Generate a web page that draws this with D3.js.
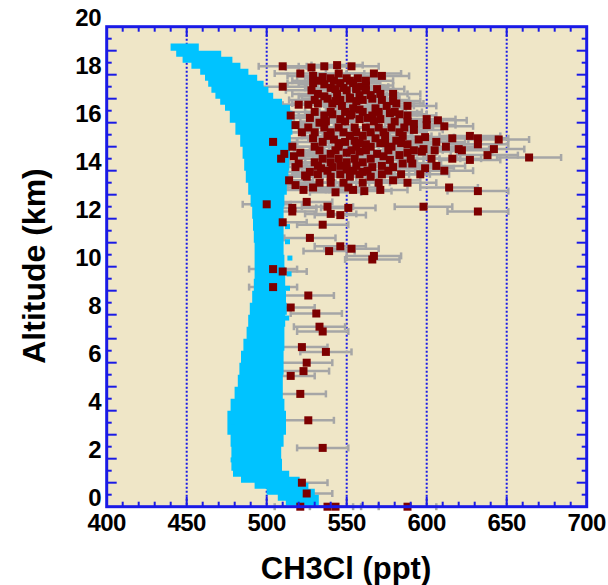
<!DOCTYPE html>
<html>
<head>
<meta charset="utf-8">
<script src="https://d3js.org/d3.v7.min.js"></script>
<style>
  body { margin: 0; background: #fff; }
  text { font-family: "Liberation Sans", Arial, sans-serif; font-weight: bold; fill: #000; }
</style>
</head>
<body>
<div id="vis"></div>
<script>
  // axis ticks
  const xLabels = [400, 450, 500, 550, 600, 650, 700]
  const xGrid = [450, 500, 550, 600, 650]
  const yLabels = [0, 2, 4, 6, 8, 10, 12, 14, 16, 18, 20]

  // model profile (cyan band): altitude, left and right edge in ppt
  const bandAlt = [19.3, 19.0, 18.75, 18.5, 18.25, 18.0, 17.75, 17.5, 17.25, 17.0, 16.75, 16.5, 16.0, 15.5, 15.0, 14.5, 14.0, 13.5, 13.0, 12.5, 12.0, 11.5, 11.0, 10.5, 10.0, 9.5, 9.0, 8.5, 8.0, 7.5, 7.0, 6.5, 6.0, 5.5, 5.0, 4.5, 4.0, 3.5, 3.0, 2.5, 2.0, 1.5, 1.25, 1.0, 0.75, 0.5, 0.25, 0.05]
  const bandLo  = [440, 443, 447, 451, 458, 462, 464, 466, 468, 471, 474, 477, 480, 484, 486, 487, 488, 489, 491, 492, 493, 493, 494, 494, 494, 494, 493, 492, 490, 490, 488, 486, 485, 484, 483, 480, 478, 476, 478, 480, 479, 480, 481, 490, 498, 505, 512, 515]
  const bandHi  = [446, 466, 474, 480, 484, 490, 495, 498, 501, 504, 512, 514, 515, 514, 513, 513, 512, 512, 510, 509, 509, 509, 509, 509, 510, 510, 510, 511, 511, 509, 510, 509, 509, 509, 508, 509, 510, 511, 510, 508, 507, 509, 516, 522, 527, 530, 532, 530]

  // scattered model points beside the band
  const cyanX   = [513, 513, 514.5, 514, 513, 512.5, 509, 479, 479]
  const cyanAlt = [11.67, 11.04, 10.36, 9.7, 9.1, 7.86, 3.5, 3.33, 1.95]

  // observations (dark red) with their error bars
  const obsPpt = [510, 528, 536, 544, 553, 521, 529, 535, 545, 567, 572, 510, 529, 536, 540, 546, 548, 554, 556, 559, 562,
    532, 536, 544, 552, 558, 565, 571, 579, 520, 526, 532, 541, 547, 554, 558, 568, 575, 581, 588,
    527, 533, 541, 546, 553, 558, 563, 571, 577, 583, 592, 600, 607, 611, 600, 592,
    504, 529, 535, 542, 549, 555, 562, 568, 574, 581, 588, 595, 599, 606, 616, 627, 632, 632, 645, 642, 620, 612, 598,
    511, 521, 540, 550, 558, 569, 583, 588, 597, 664, 627, 509, 517,
    518, 527, 534, 541, 550, 560, 566, 572, 579, 585, 591, 599, 611, 577, 573,
    518, 523, 529, 533, 543, 551, 554, 561, 571, 579, 632,
    500, 516, 516, 525, 538, 540, 546, 551, 598, 632, 510, 535, 527, 546, 553, 539, 567, 566,
    504, 510, 504, 526, 515, 531, 533, 535, 522, 537, 525, 523, 515, 521, 526, 535, 522, 525, 521, 538, 543, 588,
    540, 550, 557, 528, 550, 562, 530, 546, 560, 572, 530, 540, 549, 560, 570, 580,
    530, 540, 548, 556, 565, 573, 583, 530, 545, 556, 565, 578, 530, 540, 550, 560, 525, 540, 552, 565, 622, 638, 614,
    515, 518, 522, 516, 520, 524, 514,
    532, 542, 552, 562, 538, 552, 566, 536, 552, 566, 588,
    526, 536, 545, 555, 562, 570, 578, 586, 538, 552, 560, 574, 585,
    533, 543, 553, 562, 576, 592, 605, 535, 545, 555, 565, 590, 603, 616,
    532, 546, 556, 606, 532, 546, 558, 572, 584, 596, 540, 548, 560, 570, 588,
    537, 549, 567, 580, 588, 545, 558, 571, 584, 538, 554, 563, 576, 543, 556, 569, 543, 556, 579]
  const obsAlt = [18.35, 18.3, 18.35, 18.4, 18.35, 18.05, 17.95, 17.9, 18.05, 18.05, 17.95, 17.5, 17.65, 17.6, 17.45, 17.65, 17.45, 17.65, 17.45, 17.5, 17.55,
    17.2, 17.1, 17.2, 17.05, 17.15, 17.15, 17.2, 17.2, 16.75, 16.75, 16.8, 16.8, 16.7, 16.6, 16.55, 16.6, 16.7, 16.8, 16.7,
    16.2, 16.0, 16.35, 16.15, 16.35, 16.15, 16.2, 16.15, 16.4, 16.35, 15.95, 16.15, 16.1, 15.85, 15.9, 15.7,
    15.2, 15.35, 15.2, 15.3, 15.2, 15.25, 15.1, 15.35, 15.15, 15.25, 15.1, 15.3, 15.4, 15.2, 15.35, 15.45, 15.35, 15.1, 15.3, 14.9, 14.9, 15.0, 14.9,
    14.7, 14.75, 14.7, 14.75, 14.8, 14.7, 14.65, 14.75, 14.8, 14.55, 14.45, 14.5, 14.6,
    14.15, 13.95, 14.1, 14.15, 14.05, 13.95, 14.15, 14.2, 14.15, 14.3, 14.3, 14.1, 14.0, 14.45, 14.6,
    13.4, 13.2, 13.3, 13.5, 13.1, 13.3, 13.2, 13.15, 13.2, 13.6, 13.15,
    12.6, 12.45, 12.3, 12.7, 12.5, 12.2, 12.15, 12.45, 12.5, 12.3, 11.85, 11.75, 11.2, 10.85, 10.75, 10.65, 10.45, 10.3,
    9.9, 9.8, 9.15, 8.8, 8.3, 8.05, 7.5, 7.3, 6.65, 6.45, 6.0, 5.65, 5.45, 4.7, 3.6, 2.45, 1.0, 0.55, 0.0, 0.0, 0.0, 0.0,
    17.85, 17.85, 17.85, 17.35, 17.35, 17.35, 16.95, 16.95, 16.95, 16.95, 16.45, 16.45, 16.45, 16.45, 16.45, 16.45,
    15.6, 15.6, 15.6, 15.6, 15.6, 15.6, 15.6, 15.0, 15.0, 15.0, 15.0, 15.0, 14.35, 14.35, 14.35, 14.35, 13.75, 13.75, 13.75, 13.75, 14.85, 14.65, 13.3,
    16.3, 15.9, 15.6, 15.0, 14.3, 13.8, 13.6,
    17.75, 17.75, 17.75, 17.75, 17.0, 17.0, 17.0, 16.3, 16.3, 16.3, 16.3,
    15.8, 15.8, 15.8, 15.8, 15.8, 15.8, 15.8, 15.8, 15.45, 15.45, 15.45, 15.45, 15.45,
    14.85, 14.85, 14.85, 14.85, 14.85, 14.85, 14.85, 14.5, 14.5, 14.5, 14.5, 14.5, 14.5, 14.5,
    14.2, 14.2, 14.2, 14.2, 13.85, 13.85, 13.85, 13.85, 13.85, 13.85, 13.5, 13.5, 13.5, 13.5, 13.5,
    16.05, 16.05, 16.05, 16.05, 16.05, 15.15, 15.15, 15.15, 15.15, 14.0, 14.0, 14.0, 14.0, 17.4, 17.4, 17.4, 16.9, 16.9, 16.9]
  const obsErr = [15, 16, 16, 16, 17, 16, 16, 16, 16, 17, 17, 15, 16, 16, 16, 16, 16, 17, 17, 17, 17,
    16, 16, 16, 17, 17, 17, 17, 17, 16, 16, 16, 16, 16, 17, 17, 17, 17, 17, 18,
    16, 16, 16, 16, 17, 17, 17, 17, 17, 17, 18, 18, 18, 18, 18, 18,
    15, 16, 16, 16, 16, 17, 17, 17, 17, 17, 18, 18, 18, 18, 18, 19, 19, 19, 19, 19, 19, 18, 18,
    15, 16, 16, 16, 17, 17, 17, 18, 18, 20, 19, 15, 15,
    16, 16, 16, 16, 16, 17, 17, 17, 17, 18, 18, 18, 18, 17, 17,
    16, 16, 16, 16, 16, 17, 17, 17, 17, 17, 19,
    15, 15, 15, 16, 16, 16, 16, 17, 18, 19, 15, 16, 16, 16, 17, 16, 17, 17,
    15, 15, 15, 16, 15, 16, 16, 16, 16, 16, 16, 16, 15, 16, 16, 16, 16, 16, 16, 16, 16, 18,
    16, 17, 17, 16, 17, 17, 16, 16, 17, 17, 16, 16, 16, 17, 17, 17,
    16, 16, 16, 17, 17, 17, 17, 16, 16, 17, 17, 17, 16, 16, 16, 17, 16, 16, 17, 17, 19, 19, 18,
    15, 16, 16, 15, 16, 16, 15,
    16, 16, 17, 17, 16, 17, 17, 16, 17, 17, 18,
    16, 16, 16, 17, 17, 17, 17, 18, 16, 17, 17, 17, 18,
    16, 16, 17, 17, 17, 18, 18, 16, 16, 17, 17, 18, 18, 18,
    16, 16, 17, 18, 16, 16, 17, 17, 18, 18, 16, 16, 17, 17, 18,
    16, 16, 17, 17, 18, 16, 17, 17, 17, 16, 17, 17, 17, 16, 17, 17, 16, 17, 17]

  const W = 608, H = 585

  const svg = d3.select('#vis')
    .append('svg')
    .attr('width', W)
    .attr('height', H)

  const x = d3.scaleLinear().domain([400, 700]).range([106.7, 586.7])
  const y = d3.scaleLinear().domain([0, 20]).range([506.7, 26.7])

  // plot background
  svg.append('rect')
    .attr('x', x(400)).attr('y', y(20))
    .attr('width', x(700) - x(400)).attr('height', y(0) - y(20))
    .attr('fill', '#efe6c7')

  // dotted vertical grid
  svg.selectAll('.grid')
    .data(xGrid)
    .enter()
    .append('line')
    .attr('x1', d => x(d)).attr('x2', d => x(d))
    .attr('y1', y(20)).attr('y2', y(0))
    .attr('stroke', '#1a1ae6')
    .attr('stroke-width', 2)
    .attr('stroke-dasharray', '2,2')

  const obs = obsPpt.map((v, i) => ({ v: v, alt: obsAlt[i], err: obsErr[i] }))

  // error bars
  const bars = svg.append('g').attr('stroke', '#a6a6a6').attr('stroke-width', 2.5)
  bars.selectAll('.eb')
    .data(obs)
    .enter()
    .append('line')
    .attr('x1', d => x(d.v - d.err)).attr('x2', d => x(d.v + d.err))
    .attr('y1', d => y(d.alt)).attr('y2', d => y(d.alt))
  bars.selectAll('.capL')
    .data(obs)
    .enter()
    .append('line')
    .attr('x1', d => x(d.v - d.err)).attr('x2', d => x(d.v - d.err))
    .attr('y1', d => y(d.alt) - 3.5).attr('y2', d => y(d.alt) + 3.5)
  bars.selectAll('.capR')
    .data(obs)
    .enter()
    .append('line')
    .attr('x1', d => x(d.v + d.err)).attr('x2', d => x(d.v + d.err))
    .attr('y1', d => y(d.alt) - 3.5).attr('y2', d => y(d.alt) + 3.5)

  // cyan model band
  const band = bandAlt.map((a, i) => ({ alt: a, lo: bandLo[i], hi: bandHi[i] }))
  const area = d3.area()
    .y(d => y(d.alt))
    .x0(d => x(d.lo) - 2.5)
    .x1(d => x(d.hi) + 2.5)
    .curve(d3.curveStep)
  svg.append('path')
    .datum(band)
    .attr('d', area)
    .attr('fill', '#00c3ff')

  svg.selectAll('.cy')
    .data(cyanX)
    .enter()
    .append('rect')
    .attr('x', d => x(d) - 2.5)
    .attr('y', (d, i) => y(cyanAlt[i]) - 2.5)
    .attr('width', 5).attr('height', 5)
    .attr('fill', '#00c3ff')

  // observations
  svg.selectAll('.obs')
    .data(obs)
    .enter()
    .append('rect')
    .attr('x', d => x(d.v) - 4)
    .attr('y', d => y(d.alt) - 4)
    .attr('width', 8).attr('height', 8)
    .attr('fill', '#7d0000')

  // ticks on all four sides, pointing inward
  const xMinor = d3.range(410, 700, 10).filter(d => d % 50 != 0)
  const yMinor = d3.range(0.5, 20, 1)
  const yMajor = d3.range(1, 20, 1)
  const tk = svg.append('g').attr('stroke', '#1a1ae6').attr('stroke-width', 2)
  function vt(vals, len) {
    vals.forEach(v => {
      tk.append('line').attr('x1', x(v)).attr('x2', x(v)).attr('y1', y(0)).attr('y2', y(0) - len)
      tk.append('line').attr('x1', x(v)).attr('x2', x(v)).attr('y1', y(20)).attr('y2', y(20) + len)
    })
  }
  function ht(vals, len) {
    vals.forEach(v => {
      tk.append('line').attr('y1', y(v)).attr('y2', y(v)).attr('x1', x(400)).attr('x2', x(400) + len)
      tk.append('line').attr('y1', y(v)).attr('y2', y(v)).attr('x1', x(700)).attr('x2', x(700) - len)
    })
  }
  vt(xMinor, 5)
  vt(xGrid, 10)
  ht(yMinor, 5)
  ht(yMajor, 10)

  // frame
  svg.append('rect')
    .attr('x', x(400)).attr('y', y(20))
    .attr('width', x(700) - x(400)).attr('height', y(0) - y(20))
    .attr('fill', 'none')
    .attr('stroke', '#1a1ae6')
    .attr('stroke-width', 3)

  // tick labels
  svg.selectAll('.xl')
    .data(xLabels)
    .enter()
    .append('text')
    .attr('x', d => x(d))
    .attr('y', y(0) + 24)
    .attr('text-anchor', 'middle')
    .style('font-size', '24px')
    .style('letter-spacing', '-0.5px')
    .text(d => d)

  svg.selectAll('.yl')
    .data(yLabels)
    .enter()
    .append('text')
    .attr('x', 101)
    .attr('y', d => y(d) - 1)
    .attr('text-anchor', 'end')
    .style('font-size', '24px')
    .style('letter-spacing', '-0.5px')
    .text(d => d)

  // axis titles
  svg.append('text')
    .attr('x', 346)
    .attr('y', 579)
    .attr('text-anchor', 'middle')
    .style('font-size', '31px')
    .text('CH3Cl (ppt)')

  svg.append('text')
    .attr('transform', 'translate(45,266) rotate(-90)')
    .attr('text-anchor', 'middle')
    .style('font-size', '32px')
    .text('Altitude (km)')
</script>
</body>
</html>
